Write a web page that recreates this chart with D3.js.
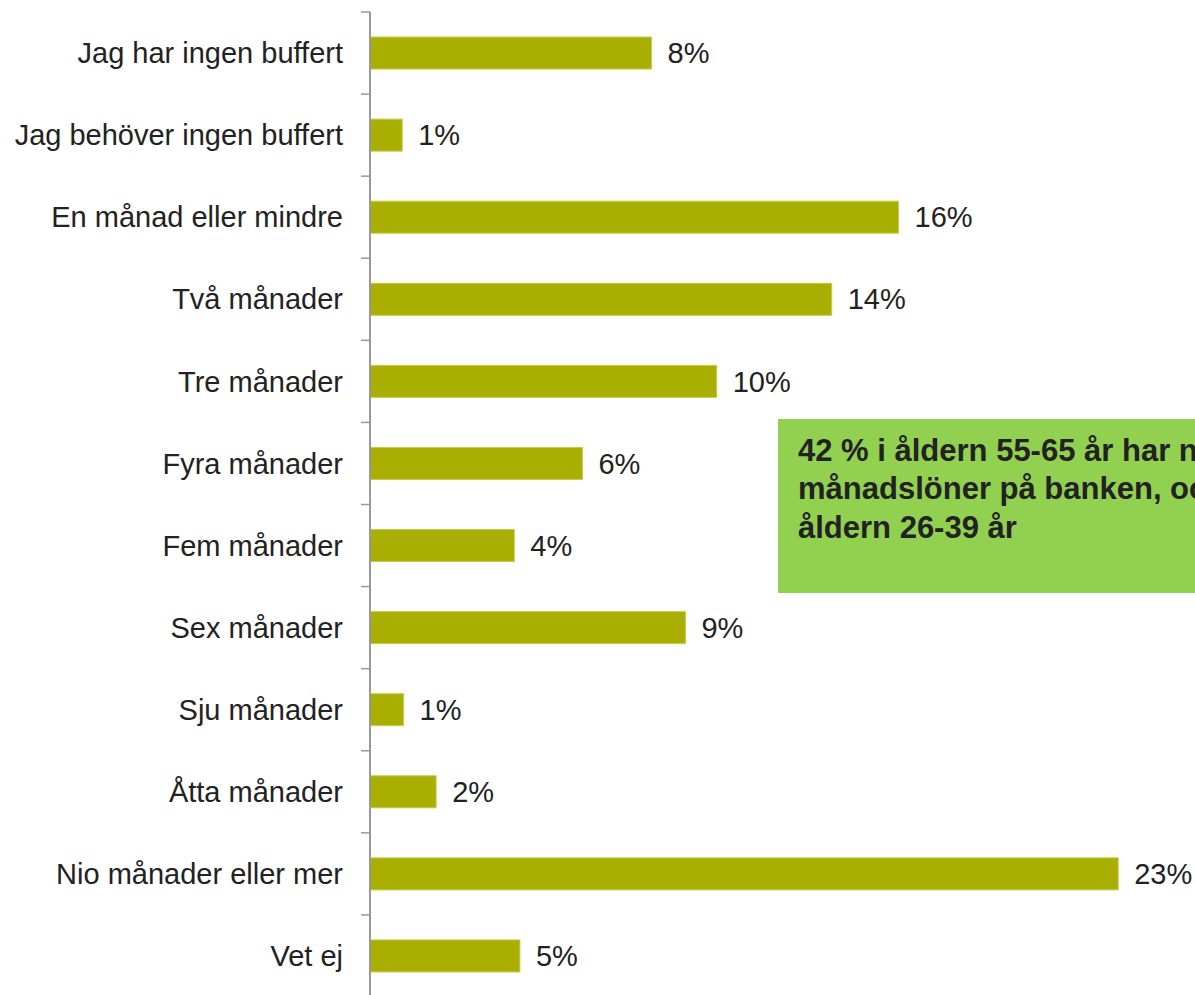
<!DOCTYPE html>
<html>
<head>
<meta charset="utf-8">
<script src="https://cdn.jsdelivr.net/npm/d3@7"></script>
<style>
  body { margin: 0; background: #fff; overflow: hidden; }
  text { font-family: "Liberation Sans", Arial, sans-serif; fill: #222; }
</style>
</head>
<body>
<script>
// svarsalternativ, uppifrån och ned
var categories = [
  "Jag har ingen buffert",
  "Jag behöver ingen buffert",
  "En månad eller mindre",
  "Två månader",
  "Tre månader",
  "Fyra månader",
  "Fem månader",
  "Sex månader",
  "Sju månader",
  "Åtta månader",
  "Nio månader eller mer",
  "Vet ej"
];

// andel i procent (avläst från bildens stapellängder)
var values = [8.47, 0.97, 15.9, 13.89, 10.43, 6.39, 4.34, 9.49, 1.01, 1.99, 22.51, 4.51];

var calloutLines = [
  "42 % i åldern 55-65 år har nio eller fler",
  "månadslöner på banken, och 12 % i",
  "åldern 26-39 år"
];

var width = 1195, height = 995;
var margin = {top: 12, left: 370};

var x = d3.scaleLinear()
  .domain([0, 25])
  .range([0, 831]);

var y = d3.scaleBand()
  .domain(categories)
  .range([0, 985])
  .paddingInner(0.61)
  .paddingOuter(0.305);

var svg = d3.select("body")
  .append("svg")
  .attr("width", width)
  .attr("height", height);

var main = svg.append("g")
  .attr("transform", "translate(" + margin.left + "," + margin.top + ")");

// staplar
main.selectAll("rect.bar")
  .data(values)
  .enter().append("rect")
  .attr("class", "bar")
  .attr("x", x(0))
  .attr("y", function(d, i) { return y(categories[i]); })
  .attr("width", function(d) { return x(d); })
  .attr("height", y.bandwidth())
  .attr("fill", "#a9af00")
  .attr("stroke", "#c6cb4c")
  .attr("stroke-width", 1);

// värdeetiketter
main.selectAll("text.val")
  .data(values)
  .enter().append("text")
  .attr("class", "val")
  .attr("x", function(d) { return x(d) + 16; })
  .attr("y", function(d, i) { return y(categories[i]) + y.bandwidth() / 2; })
  .attr("dy", "0.35em")
  .style("font-size", "29px")
  .text(function(d) { return Math.round(d) + "%"; });

// y-axel med streck mellan kategorierna
var step = y.step();
var yAxis = main.append("g").attr("class", "axis");

yAxis.append("line")
  .attr("x1", 0).attr("x2", 0)
  .attr("y1", 0).attr("y2", 990)
  .attr("stroke", "#999")
  .attr("stroke-width", 2);

yAxis.selectAll("line.tick")
  .data(d3.range(categories.length + 1))
  .enter().append("line")
  .attr("class", "tick")
  .attr("x1", -9).attr("x2", 0)
  .attr("y1", function(i) { return i * step; })
  .attr("y2", function(i) { return i * step; })
  .attr("stroke", "#999")
  .attr("stroke-width", 1.5);

yAxis.selectAll("text.cat")
  .data(categories)
  .enter().append("text")
  .attr("class", "cat")
  .attr("x", -27)
  .attr("y", function(d) { return y(d) + y.bandwidth() / 2; })
  .attr("dy", "0.35em")
  .style("text-anchor", "end")
  .style("font-size", "29px")
  .text(function(d) { return d; });

// grön kommentarsruta
var box = svg.append("g").attr("transform", "translate(778,419)");

box.append("rect")
  .attr("width", 460)
  .attr("height", 174)
  .attr("fill", "#92d050");

box.append("text")
  .style("font-size", "31px")
  .style("font-weight", "bold")
  .selectAll("tspan")
  .data(calloutLines)
  .enter().append("tspan")
  .attr("x", 20)
  .attr("y", function(d, i) { return 42 + i * 38.3; })
  .text(function(d) { return d; });
</script>
</body>
</html>
